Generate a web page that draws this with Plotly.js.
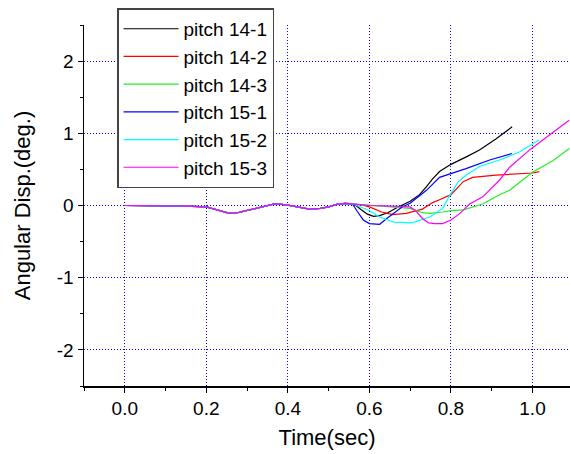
<!DOCTYPE html>
<html>
<head>
<meta charset="utf-8">
<script src="https://cdn.plot.ly/plotly-3.0.1.min.js"></script>
<style>html,body{margin:0;padding:0;background:#fff;}#chart{width:570px;height:454px;}</style>
</head>
<body>
<div id="chart"></div>
<script>
// Shared early part (all runs coincide until ~0.55 s)
const baseTime = [0, 0.05, 0.10, 0.15, 0.20, 0.22, 0.257, 0.28, 0.306, 0.33, 0.348, 0.37, 0.40, 0.43, 0.453, 0.48, 0.50, 0.52, 0.54, 0.55];
const baseDisp = [0, 0, -0.005, -0.01, -0.02, -0.05, -0.11, -0.095, -0.06, -0.025, 0.0, 0.025, 0.005, -0.03, -0.05, -0.04, -0.02, 0.015, 0.03, 0.025];

const names = ['pitch 14-1', 'pitch 14-2', 'pitch 14-3', 'pitch 15-1', 'pitch 15-2', 'pitch 15-3'];
const colors = ['#000000', '#ff0000', '#22ee22', '#0000ff', '#00ffff', '#ff00ff'];

const t141 = [0.565, 0.58, 0.595, 0.61, 0.625, 0.645, 0.667, 0.70, 0.723, 0.74, 0.755, 0.772, 0.80, 0.84, 0.87, 0.91, 0.95];
const v141 = [0.01, -0.06, -0.12, -0.15, -0.14, -0.10, -0.03, 0.06, 0.15, 0.26, 0.37, 0.47, 0.57, 0.68, 0.77, 0.92, 1.09];

const t142 = [0.58, 0.60, 0.63, 0.657, 0.69, 0.73, 0.755, 0.772, 0.80, 0.83, 0.853, 0.91, 0.96, 1.00, 1.017];
const v142 = [0.01, -0.02, -0.09, -0.125, -0.11, -0.05, 0.04, 0.08, 0.15, 0.33, 0.39, 0.42, 0.44, 0.45, 0.47];

const t143 = [0.60, 0.65, 0.70, 0.73, 0.748, 0.78, 0.80, 0.83, 0.862, 0.878, 0.919, 0.944, 1.00, 1.05, 1.09];
const v143 = [0.0, -0.02, -0.04, -0.10, -0.11, -0.09, -0.07, -0.06, 0.0, 0.02, 0.15, 0.21, 0.46, 0.62, 0.79];

const t151 = [0.56, 0.57, 0.585, 0.60, 0.625, 0.645, 0.68, 0.70, 0.74, 0.772, 0.80, 0.837, 0.895, 0.95];
const v151 = [0.01, -0.08, -0.20, -0.25, -0.26, -0.17, -0.02, 0.03, 0.21, 0.39, 0.44, 0.51, 0.63, 0.72];

const t152 = [0.56, 0.60, 0.625, 0.66, 0.705, 0.748, 0.78, 0.797, 0.817, 0.837, 0.87, 0.919, 0.968, 1.017];
const v152 = [0.02, -0.07, -0.16, -0.23, -0.24, -0.16, -0.04, 0.14, 0.32, 0.42, 0.54, 0.63, 0.74, 0.91];

const t153 = [0.60, 0.65, 0.70, 0.715, 0.73, 0.745, 0.76, 0.78, 0.80, 0.82, 0.846, 0.878, 0.919, 0.944, 0.993, 1.04, 1.09];
const v153 = [0.0, -0.01, -0.02, -0.08, -0.18, -0.24, -0.25, -0.25, -0.20, -0.12, 0.02, 0.12, 0.35, 0.53, 0.77, 0.97, 1.18];

const yTickVals = [-2, -1, 0, 1, 2];
const yTickText = ['-2', '-1', '0', '1', '2'];
const xTickVals = [0, 0.2, 0.4, 0.6, 0.8, 1.0];
const xTickText = ['0.0', '0.2', '0.4', '0.6', '0.8', '1.0'];

const tails = [[t141, v141], [t142, v142], [t143, v143], [t151, v151], [t152, v152], [t153, v153]];

const traces = tails.map((tv, i) => ({
  x: baseTime.concat(tv[0]),
  y: baseDisp.concat(tv[1]),
  type: 'scatter',
  mode: 'lines',
  name: names[i],
  line: {color: colors[i], width: 1.2}
}));

const font = 'Arial, "Liberation Sans", sans-serif';
const dots = '1px,2px';

const layout = {
  width: 570, height: 454,
  margin: {l: 84, r: 0, t: 25, b: 68},
  paper_bgcolor: '#fff', plot_bgcolor: '#fff',
  font: {family: font, color: '#000', size: 19},
  showlegend: true,
  legend: {
    x: 0.068, y: 1.046, xanchor: 'left', yanchor: 'top',
    bgcolor: '#fff', bordercolor: '#444', borderwidth: 1.5,
    itemwidth: 55,
    font: {family: font, size: 19, color: '#000'}
  },
  xaxis: {
    range: [-0.1, 1.092],
    tickvals: xTickVals, ticktext: xTickText,
    ticks: 'outside', ticklen: 5, tickwidth: 1, tickcolor: '#000',
    minor: {tickvals: [-0.1, 0.1, 0.3, 0.5, 0.7, 0.9], ticks: 'outside', ticklen: 3, tickcolor: '#000', showgrid: false},
    showline: true, linecolor: '#000', linewidth: 1.5, mirror: false,
    showgrid: true, gridcolor: '#0000ff', griddash: dots, gridwidth: 1,
    zeroline: false,
    tickfont: {family: font, size: 19, color: '#000'},
    title: {text: 'Time(sec)', font: {family: font, size: 22, color: '#000'}, standoff: 11}
  },
  yaxis: {
    range: [-2.5, 2.5],
    tickvals: yTickVals, ticktext: yTickText,
    ticks: 'outside', ticklen: 5, tickwidth: 1, tickcolor: '#000',
    minor: {tickvals: [-2.5, -1.5, -0.5, 0.5, 1.5, 2.5], ticks: 'outside', ticklen: 3, tickcolor: '#000', showgrid: false},
    showline: true, linecolor: '#000', linewidth: 1.5, mirror: false,
    showgrid: true, gridcolor: '#0000ff', griddash: dots, gridwidth: 1,
    zeroline: false,
    tickfont: {family: font, size: 19, color: '#000'},
    title: {text: 'Angular Disp.(deg.)', font: {family: font, size: 22, color: '#000'}, standoff: 20}
  }
};

Plotly.newPlot('chart', traces, layout, {displayModeBar: false, staticPlot: true});
</script>
</body>
</html>
